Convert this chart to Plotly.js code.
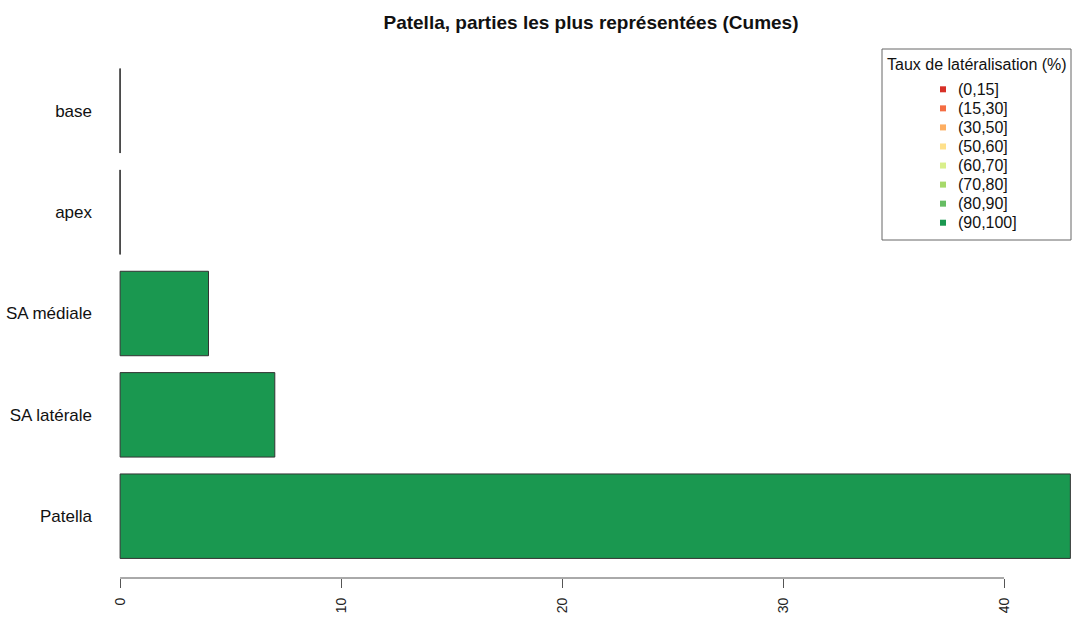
<!DOCTYPE html>
<html>
<head>
<meta charset="utf-8">
<script src="https://cdn.plot.ly/plotly-3.0.1.min.js"></script>
<style>html,body{margin:0;padding:0;background:#fff;}#chart{width:1075px;height:618px;}</style>
</head>
<body>
<div id="chart"></div>
<script>
// ---- data ----
const categories = ["Patella", "SA latérale", "SA médiale", "apex", "base"];
const counts = [43, 7, 4, 0, 0];
const barClass = ["(90,100]", "(90,100]", "(90,100]", "(90,100]", "(90,100]"];
const classLabels = ["(0,15]", "(15,30]", "(30,50]", "(50,60]", "(60,70]", "(70,80]", "(80,90]", "(90,100]"];
const classColors = ["#D73027", "#F46D43", "#FDAE61", "#FEE08B", "#D9EF8B", "#A6D96A", "#66BD63", "#1A9850"];
const xTicks = [0, 10, 20, 30, 40];
const chartTitle = "Patella, parties les plus représentées (Cumes)";
const legendTitle = "Taux de latéralisation (%)";

// ---- layout helpers ----
const W = 1075, H = 618;
const M = {l: 119, r: 0, t: 49, b: 40};
const PW = W - M.l - M.r, PH = H - M.t - M.b;
const px2x = p => (p - M.l) / PW;
const py2y = p => (H - M.b - p) / PH;
const FONT = "Liberation Sans, Arial, sans-serif";

// bar positions as in R barplot (space = 0.2, width = 1)
const pos = categories.map((c, i) => 0.2 + 0.5 + i * 1.2);
const barColors = barClass.map(c => classColors[classLabels.indexOf(c)]);

const traces = [{
  type: "bar", orientation: "h",
  x: counts, y: pos, width: 1,
  marker: {color: barColors, line: {color: "#333", width: 1}},
  hoverinfo: "x+text", text: categories, textposition: "none",
  showlegend: false
}];

// zero-length bars are drawn by R as a single border line
const zx = [], zy = [];
counts.forEach((v, i) => { if (v === 0) { zx.push(v, v, null); zy.push(pos[i] - 0.5, pos[i] + 0.5, null); } });
traces.push({type: "scatter", mode: "lines", x: zx, y: zy, line: {color: "#444", width: 1}, hoverinfo: "skip", showlegend: false});

const shapes = [
  // x axis line from first to last tick
  {type: "line", xref: "x", yref: "paper", x0: xTicks[0], x1: xTicks[xTicks.length - 1], y0: 0, y1: 0, line: {color: "#555", width: 1}},
  // legend box
  {type: "rect", xref: "paper", yref: "paper", x0: px2x(882), x1: px2x(1071), y0: py2y(240), y1: py2y(49), line: {color: "#666", width: 1}, fillcolor: "rgba(0,0,0,0)"}
];
const annotations = [{
  xref: "paper", yref: "paper", x: px2x(976.5), y: py2y(65), text: legendTitle, showarrow: false,
  xanchor: "center", yanchor: "middle", font: {family: FONT, size: 16, color: "#111"}
}];
classLabels.forEach((lab, i) => {
  const cy = 89.3 + i * 19.06;
  shapes.push({type: "rect", xref: "paper", yref: "paper", x0: px2x(940), x1: px2x(946), y0: py2y(cy + 3), y1: py2y(cy - 3), line: {width: 0}, fillcolor: classColors[i]});
  annotations.push({xref: "paper", yref: "paper", x: px2x(956), y: py2y(cy), text: lab, showarrow: false,
    xanchor: "left", yanchor: "middle", font: {family: FONT, size: 16, color: "#111"}});
});

const layout = {
  width: W, height: H,
  margin: M,
  paper_bgcolor: "#fff", plot_bgcolor: "#fff",
  title: {text: chartTitle, x: 591 / W, xref: "container", xanchor: "center", y: 1 - 22 / H, yanchor: "middle",
    font: {family: FONT, size: 19, weight: 700, color: "#111"}},
  xaxis: {range: [-0.05, 43.21], tickvals: xTicks, ticktext: xTicks.map(String), tickangle: -90,
    ticks: "outside", ticklen: 9, tickcolor: "#555", showline: false, zeroline: false, showgrid: false,
    ticklabelstandoff: 4, tickfont: {family: FONT, size: 14, color: "#222"}, fixedrange: true},
  yaxis: {range: [-0.032, 6.232], tickvals: pos, ticktext: categories, ticks: "", showline: false,
    zeroline: false, showgrid: false, ticklabelstandoff: 26, tickfont: {family: FONT, size: 17, color: "#111"}, fixedrange: true},
  shapes: shapes, annotations: annotations,
  showlegend: false, bargap: 0
};

Plotly.newPlot("chart", traces, layout, {displayModeBar: false, staticPlot: true});
</script>
</body>
</html>
